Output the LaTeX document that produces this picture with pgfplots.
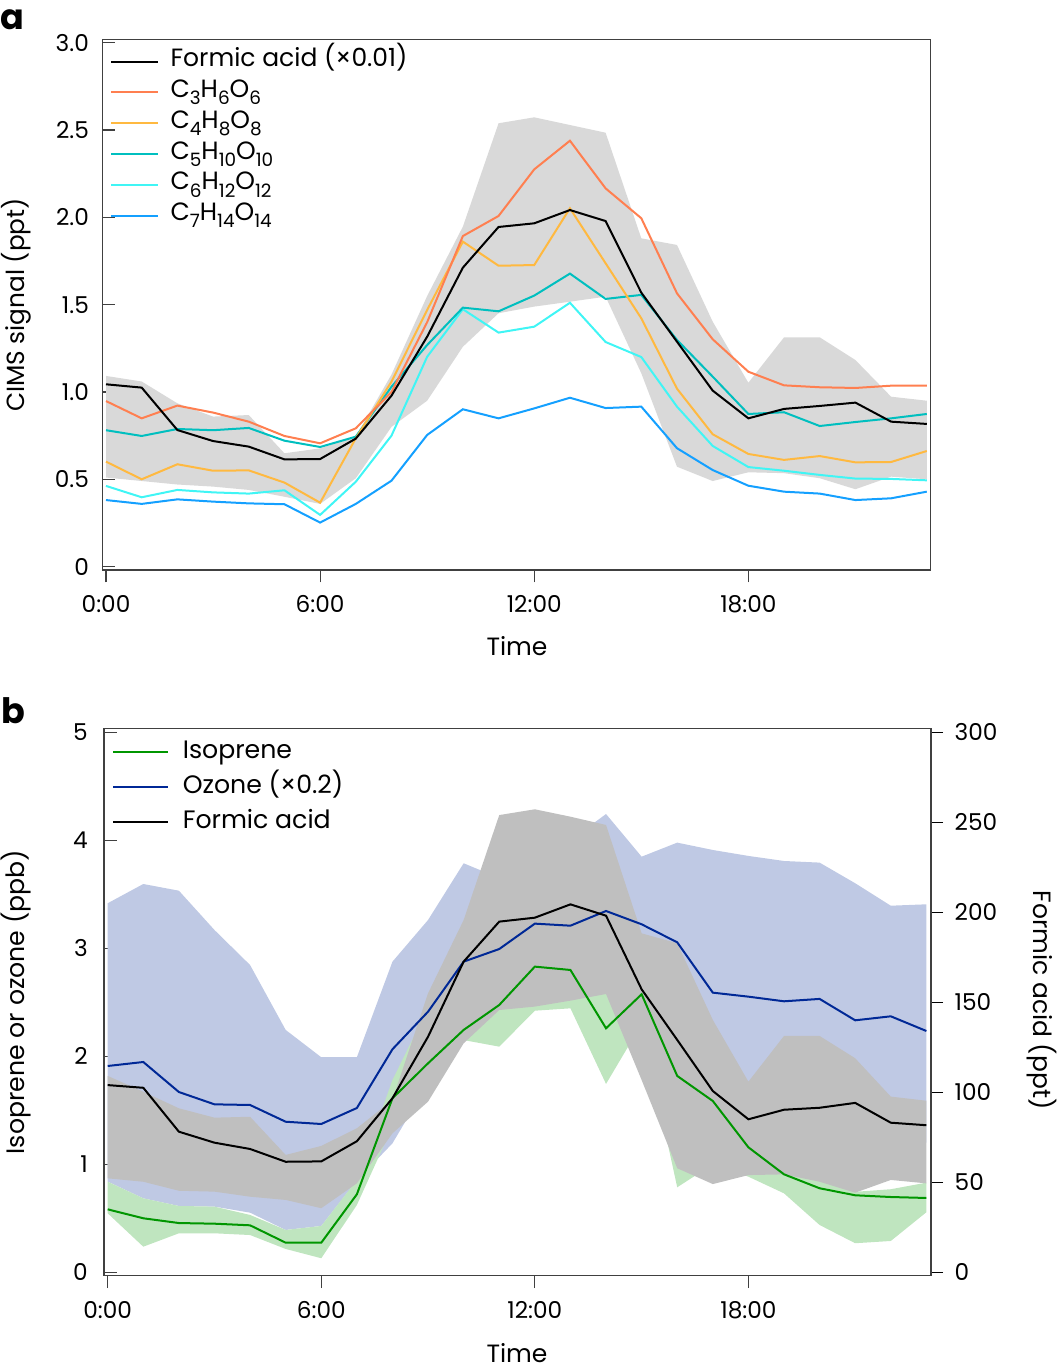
\documentclass[border=0pt]{standalone}
\usepackage{fontspec}
\setmainfont{Poppins}
\usepackage{pgfplots}
\usepackage{pgfplotstable}
\pgfplotsset{compat=1.18}
\usepgfplotslibrary{fillbetween}

\definecolor{cOrange}{RGB}{255,127,80}
\definecolor{cYellow}{RGB}{255,185,64}
\definecolor{cTeal}{RGB}{0,191,191}
\definecolor{cCyan}{RGB}{64,245,245}
\definecolor{cBlue}{RGB}{20,160,255}
\definecolor{cGrayA}{RGB}{217,217,217}
\definecolor{cOzBand}{RGB}{191,201,228}
\definecolor{cGrayB}{RGB}{191,191,191}
\definecolor{cIsoBand}{RGB}{191,229,191}
\definecolor{cIso}{RGB}{0,150,0}
\definecolor{cOz}{RGB}{0,40,150}

\newcommand{\sub}[1]{\raisebox{-3.6pt}{\fontsize{9.2}{10}\selectfont #1}}

% panel a: formic acid (x0.01) mean, band, and five CxH2xO2x series (ppt)
\pgfplotstableread{
h fa falo fahi c3 c4 c5 c6 c7
0 1.044 0.51 1.092 0.948 0.601 0.781 0.462 0.381
1 1.025 0.49 1.06 0.849 0.500 0.748 0.397 0.359
2 0.782 0.47 0.935 0.922 0.586 0.788 0.439 0.385
3 0.719 0.458 0.859 0.882 0.549 0.781 0.425 0.372
4 0.687 0.439 0.868 0.830 0.551 0.794 0.418 0.362
5 0.614 0.40 0.649 0.748 0.481 0.721 0.437 0.357
6 0.616 0.359 0.677 0.706 0.366 0.685 0.296 0.252
7 0.733 0.506 0.745 0.792 0.735 0.744 0.486 0.359
8 0.979 0.80 1.10 1.00 1.059 1.03 0.750 0.492
9 1.317 0.95 1.55 1.40 1.47 1.269 1.202 0.754
10 1.712 1.259 1.947 1.893 1.861 1.483 1.474 0.901
11 1.945 1.451 2.539 2.008 1.723 1.462 1.340 0.849
12 1.966 1.489 2.573 2.275 1.727 1.552 1.374 0.906
13 2.042 1.517 2.529 2.439 2.052 1.678 1.511 0.967
14 1.979 1.546 2.485 2.166 1.737 1.533 1.286 0.908
15 1.569 1.107 1.880 1.995 1.422 1.556 1.200 0.916
16 1.288 0.572 1.842 1.565 1.019 1.298 0.916 0.678
17 1.008 0.490 1.403 1.302 0.758 1.088 0.691 0.553
18 0.849 0.540 1.053 1.116 0.645 0.874 0.570 0.463
19 0.903 0.535 1.313 1.038 0.611 0.884 0.549 0.429
20 0.920 0.506 1.313 1.027 0.633 0.805 0.525 0.418
21 0.939 0.443 1.183 1.023 0.597 0.828 0.504 0.381
22 0.830 0.515 0.973 1.036 0.599 0.849 0.502 0.391
23 0.817 0.50 0.950 1.036 0.662 0.874 0.494 0.429
}\tabA

% panel b: isoprene (ppb), ozone x0.2 (ppb), formic acid (ppt)
\pgfplotstableread{
h iso isolo isohi oz ozlo ozhi fa falo fahi
0 0.583 0.546 0.839 1.910 0.84 3.417 104.0 52.2 109.1
1 0.500 0.237 0.685 1.947 0.685 3.595 102.5 50.3 100.3
2 0.456 0.361 0.614 1.669 0.614 3.533 78.1 45.3 91.1
3 0.450 0.361 0.608 1.555 0.608 3.169 72.0 44.8 85.9
4 0.435 0.345 0.531 1.549 0.552 2.845 68.5 42.0 86.4
5 0.274 0.216 0.392 1.394 0.392 2.244 61.4 40.2 65.2
6 0.274 0.130 0.429 1.373 0.429 1.991 61.6 35.6 70.2
7 0.722 0.623 0.855 1.521 0.85 1.991 72.8 49.4 80.0
8 1.611 1.35 1.78 2.065 1.194 2.876 96.7 77.2 95.7
9 1.935 1.70 2.45 2.413 1.75 3.262 130.9 94.8 155.0
10 2.244 2.15 2.60 2.876 2.50 3.787 172.6 127.2 195.7
11 2.475 2.089 2.80 2.993 2.60 3.65 194.8 145.7 254.0
12 2.830 2.422 3.10 3.228 2.70 3.80 197.0 147.6 257.2
13 2.799 2.444 3.10 3.209 2.70 4.00 204.4 150.9 253.1
14 2.259 1.744 2.90 3.345 2.70 4.243 198.1 154.6 248.5
15 2.574 2.30 2.75 3.222 2.46 3.848 157.2 106.8 188.3
16 1.818 0.787 2.20 3.055 2.00 3.978 129.1 57.8 182.8
17 1.586 1.00 1.90 2.589 1.58 3.910 100.7 49.0 140.2
18 1.157 0.885 1.30 2.552 1.33 3.855 85.0 54.0 105.9
19 0.907 0.731 1.05 2.509 1.55 3.808 90.3 54.4 131.3
20 0.778 0.438 0.86 2.531 1.51 3.793 91.4 50.3 131.3
21 0.713 0.269 0.745 2.333 1.36 3.602 94.1 44.2 118.9
22 0.697 0.290 0.769 2.370 1.24 3.394 83.1 51.3 97.6
23 0.688 0.556 0.83 2.234 1.20 3.407 81.7 49.4 95.3
}\tabB

\pgfplotsset{
  myaxis/.style={
    scale only axis,
    anchor=south west,
    axis line style={black!75, line width=0.6pt},
    tick align=inside,
    major tick length=6.25pt,
    major tick style={black!75, line width=0.6pt},
    every major x tick/.append style={yshift=-6.25pt},
    xtick pos=lower, ytick pos=left,
    xtick={0,6,12,18}, xticklabels={0:00,6:00,12:00,18:00},
    tick label style={font=\fontsize{11.6}{13}\selectfont},
    xticklabel style={yshift=-9.3pt},
    legend cell align=left,
    clip=true,
  },
}

\begin{document}
\begin{tikzpicture}[x=1pt,y=1pt]

% ---------------- panel a ----------------
\begin{axis}[myaxis,
  at={(51.15pt,399.5pt)}, width=414.2pt, height=265.35pt,
  xmin=-0.104, xmax=23.11, ymin=-0.0195, ymax=3.02,
  ytick={0,0.5,1,1.5,2,2.5,3}, yticklabels={0,0.5,1.0,1.5,2.0,2.5,3.0},
  yticklabel style={xshift=-3.2pt},
  legend image code/.code={\draw[#1, line width=1pt] (0pt,0pt) -- (23.5pt,0pt);},
  legend style={draw=none, fill=none, at={(rel axis cs:0,1)}, anchor=north west,
    xshift=3.85pt, yshift=-5pt, inner sep=0pt, row sep=3.4pt, column sep=5.6pt,
    nodes={inner sep=0pt, text height=8.5pt, text depth=3.5pt},
    font=\fontsize{12.5}{14}\selectfont},
]
\addlegendimage{black}
\addlegendimage{cOrange}
\addlegendimage{cYellow}
\addlegendimage{cTeal}
\addlegendimage{cCyan}
\addlegendimage{cBlue}
\addplot[draw=none, name path=aup, forget plot] table[x=h, y=fahi] {\tabA};
\addplot[draw=none, name path=alo, forget plot] table[x=h, y=falo] {\tabA};
\addplot[fill=cGrayA, draw=none, forget plot] fill between[of=aup and alo];
\addplot[cBlue, line width=1pt, forget plot] table[x=h, y=c7] {\tabA};
\addplot[cCyan, line width=1pt, forget plot] table[x=h, y=c6] {\tabA};
\addplot[cTeal, line width=1pt, forget plot] table[x=h, y=c5] {\tabA};
\addplot[cYellow, line width=1pt, forget plot] table[x=h, y=c4] {\tabA};
\addplot[cOrange, line width=1pt, forget plot] table[x=h, y=c3] {\tabA};
\addplot[black, line width=1pt, forget plot] table[x=h, y=fa] {\tabA};
\legend{Formic acid (×0.01),
  C\sub{3}H\sub{6}O\sub{6},
  C\sub{4}H\sub{8}O\sub{8},
  C\sub{5}H\sub{10}O\sub{10},
  C\sub{6}H\sub{12}O\sub{12},
  C\sub{7}H\sub{14}O\sub{14}}
\end{axis}

% ---------------- panel b ----------------
\begin{axis}[myaxis,
  at={(52pt,46.65pt)}, width=413.5pt, height=273.5pt,
  xmin=-0.104, xmax=23.13, ymin=-0.0315, ymax=5.033,
  ytick={0,1,2,3,4,5}, yticklabels={0,1,2,3,4,5},
  yticklabel style={xshift=-4.6pt},
  legend image code/.code={\draw[#1, line width=1pt] (0pt,0pt) -- (27.5pt,0pt);},
  legend style={draw=none, fill=none, at={(rel axis cs:0,1)}, anchor=north west,
    xshift=4pt, yshift=-6pt, inner sep=0pt, row sep=6.5pt, column sep=6.7pt,
    nodes={inner sep=0pt, text height=8.5pt, text depth=2.5pt},
    font=\fontsize{12.6}{14}\selectfont},
]
\addlegendimage{cIso}
\addlegendimage{cOz}
\addlegendimage{black}
\addplot[draw=none, name path=oup, forget plot] table[x=h, y=ozhi] {\tabB};
\addplot[draw=none, name path=olo, forget plot] table[x=h, y=ozlo] {\tabB};
\addplot[fill=cOzBand, draw=none, forget plot] fill between[of=oup and olo];
\addplot[draw=none, name path=iup, forget plot] table[x=h, y=isohi] {\tabB};
\addplot[draw=none, name path=ilo, forget plot] table[x=h, y=isolo] {\tabB};
\addplot[fill=cIsoBand, draw=none, forget plot] fill between[of=iup and ilo];
\addplot[draw=none, name path=fup, forget plot] table[x=h, y expr=\thisrow{fahi}/60] {\tabB};
\addplot[draw=none, name path=flo, forget plot] table[x=h, y expr=\thisrow{falo}/60] {\tabB};
\addplot[fill=cGrayB, draw=none, forget plot] fill between[of=fup and flo];
\addplot[cOz, line width=1pt, forget plot] table[x=h, y=oz] {\tabB};
\addplot[cIso, line width=1pt, forget plot] table[x=h, y=iso] {\tabB};
\addplot[black, line width=1pt, forget plot] table[x=h, y expr=\thisrow{fa}/60] {\tabB};
\legend{Isoprene, Ozone (×0.2), Formic acid}
\end{axis}

\begin{axis}[
  scale only axis, anchor=south west,
  at={(52pt,46.65pt)}, width=413.5pt, height=273.5pt,
  xmin=-0.104, xmax=23.13, ymin=-1.89, ymax=302.0,
  axis y line*=right, hide x axis,
  axis line style={black!75, line width=0.6pt},
  tick align=outside, major tick length=6pt,
  major tick style={black, line width=0.6pt},
  ytick={0,50,100,150,200,250,300}, yticklabels={0,50,100,150,200,250,300},
  tick label style={font=\fontsize{11.6}{13}\selectfont},
  yticklabel style={xshift=2.3pt},
]
\addplot[draw=none] coordinates {(0,0)};
\end{axis}

% labels
\node[font=\bfseries\fontsize{17.5}{19}\selectfont] at (6pt,674.5pt) {a};
\node[font=\bfseries\fontsize{17.5}{19}\selectfont] at (6.5pt,329pt) {b};
\node[rotate=90, font=\fontsize{12.4}{14}\selectfont] at (8pt,532pt) {CIMS signal (ppt)};
\node[font=\fontsize{12.5}{14}\selectfont] at (258.5pt,361.5pt) {Time};
\node[font=\fontsize{12.5}{14}\selectfont] at (258.5pt,8pt) {Time};
\node[rotate=90, font=\fontsize{12.6}{14}\selectfont] at (8pt,183.5pt) {Isoprene or ozone (ppb)};
\node[rotate=-90, font=\fontsize{12.5}{14}\selectfont] at (521pt,184.5pt) {Formic acid (ppt)};

\pgfresetboundingbox
\useasboundingbox (0,0) rectangle (528.5,684.5);
\end{tikzpicture}
\end{document}
